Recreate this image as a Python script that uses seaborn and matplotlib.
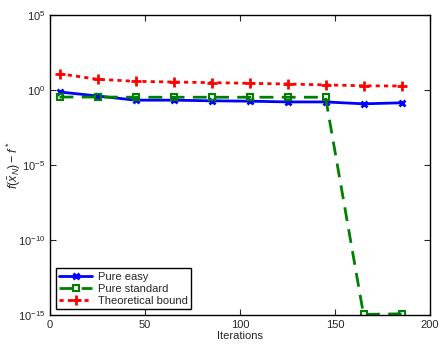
import numpy as np
import pandas as pd
import matplotlib
matplotlib.use("Agg")
import matplotlib.pyplot as plt
import seaborn as sns

iterations = [5, 25, 45, 65, 85, 105, 125, 145, 165, 185]
pure_easy = [0.74, 0.40, 0.21, 0.21, 0.19, 0.18, 0.16, 0.16, 0.12, 0.14]
pure_standard = [0.34, 0.34, 0.33, 0.33, 0.33, 0.33, 0.33, 0.33, 1.1e-15, 1.2e-15]
theoretical = [12.2, 5.2, 3.8, 3.4, 3.1, 2.8, 2.5, 2.2, 1.9, 1.85]

df = pd.DataFrame({"Iterations": iterations, "Pure easy": pure_easy,
                   "Pure standard": pure_standard, "Theoretical bound": theoretical})

# Plot ........................................................................

sns.set_style("ticks")
plt.rcParams["font.family"] = ["Liberation Sans", "DejaVu Sans"]
plt.rcParams["mathtext.fontset"] = "custom"
plt.rcParams["mathtext.rm"] = "Liberation Sans"
plt.rcParams["mathtext.it"] = "Liberation Sans:italic"
plt.rcParams["mathtext.sf"] = "Liberation Sans"

fig = plt.figure(figsize = (4.44, 3.49), dpi = 100)
ax = fig.add_axes([50 / 444, 34 / 349, 380 / 444, 300 / 349])

sns.lineplot(data = df, x = "Iterations", y = "Pure easy", ax = ax, color = "blue",
             linewidth = 2, marker = "x", markersize = 4.5, markeredgewidth = 2,
             markeredgecolor = "blue", label = "Pure easy")
sns.lineplot(data = df, x = "Iterations", y = "Pure standard", ax = ax, color = "green",
             linewidth = 2, linestyle = (0, (5, 3)), marker = "s", markersize = 5,
             markerfacecolor = "none", markeredgewidth = 1.5, markeredgecolor = "green",
             label = "Pure standard")
sns.lineplot(data = df, x = "Iterations", y = "Theoretical bound", ax = ax, color = "red",
             linewidth = 2, linestyle = (0, (1.5, 1.5)), marker = "+", markersize = 7,
             markeredgewidth = 2, markeredgecolor = "red", label = "Theoretical bound")

ax.set_yscale("log")
ax.set_xlim(0, 200)
ax.set_ylim(1e-15, 1e5)
ax.set_yticks([1e-15, 1e-10, 1e-5, 1e0, 1e5])
ax.minorticks_off()
ax.set_xticks([0, 50, 100, 150, 200])
ax.tick_params(direction = "in", top = True, right = True, labelsize = 8, length = 4)
ax.set_xlabel("Iterations", fontsize = 8, labelpad = 1)
ax.set_ylabel(r"$f(\bar{x}_N) - f^*$", fontsize = 9)
ax.yaxis.set_label_coords(-0.072, 0.5)
for s in ax.spines.values():
    s.set_color("black")
    s.set_linewidth(1)

leg = ax.legend(loc = "lower left", fontsize = 8, fancybox = False, framealpha = 1,
                edgecolor = "black", handlelength = 3, borderpad = 0.3, labelspacing = 0.2,
                handletextpad = 0.5)
leg.get_frame().set_linewidth(1)

fig.savefig("out.png", dpi = 100)
